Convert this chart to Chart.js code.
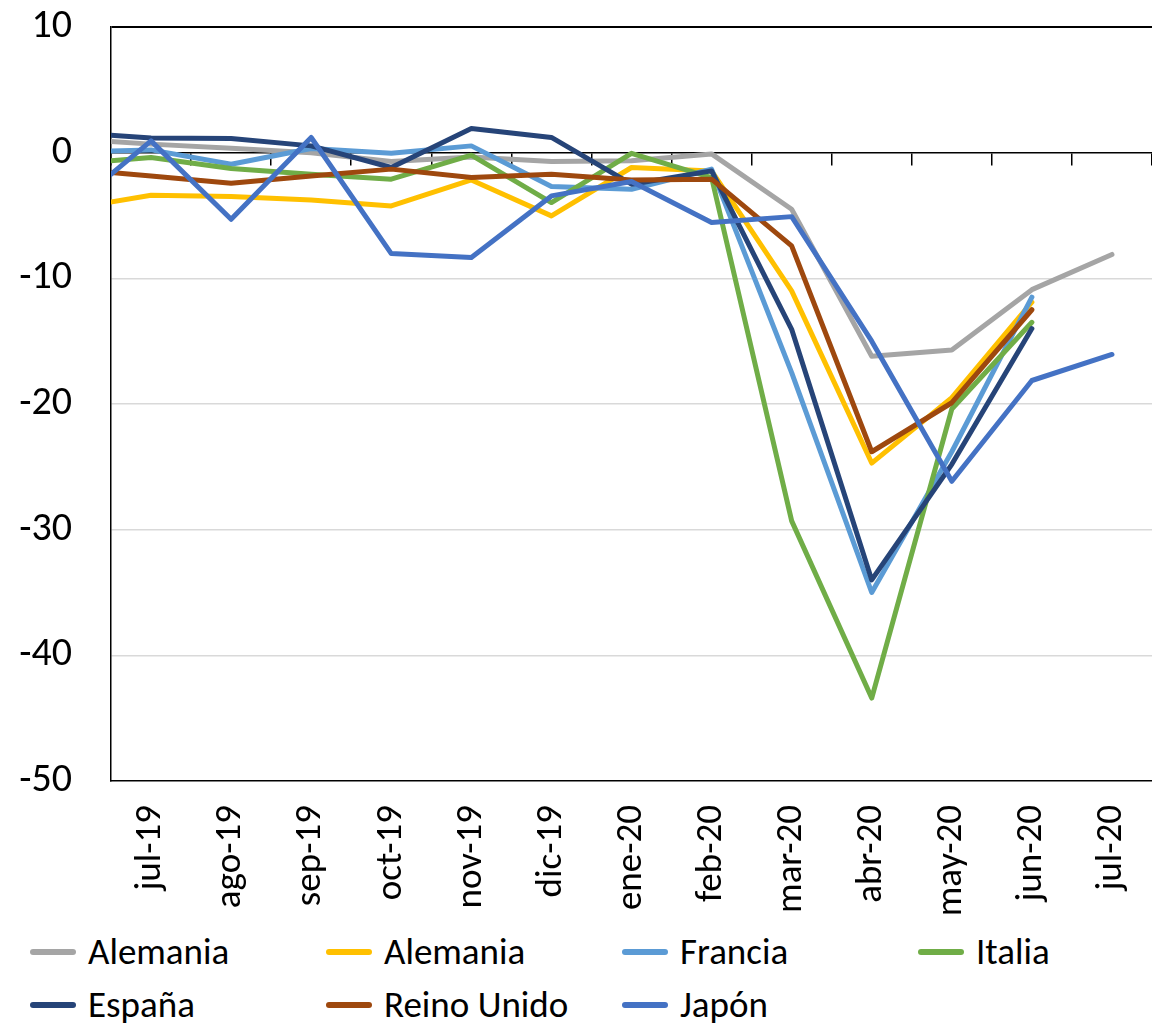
<!DOCTYPE html>
<html lang="es">
<head>
    <meta charset="UTF-8">
    <title>Índices mensuales</title>
    <script src="https://cdn.jsdelivr.net/npm/chart.js@4/dist/chart.umd.min.js"></script>
    <style>
        body {
            margin: 0;
            background: #fff;
            font-family: Carlito, Lato, sans-serif;
            color: #000;
        }
        .chart-box {
            position: relative;
            width: 1152px;
            height: 920px;
        }
        #legend {
            display: grid;
            grid-template-columns: repeat(4, 296px);
            grid-auto-rows: 53px;
            padding-left: 30px;
            margin-top: 5px;
        }
        #legend .item {
            display: flex;
            align-items: center;
            font-size: 37px;
        }
        #legend .swatch {
            width: 46px;
            height: 6px;
            border-radius: 3px;
            margin-right: 12px;
        }
    </style>
</head>
<body>
    <div class="chart-box">
        <canvas id="chart"></canvas>
    </div>
    <div id="legend"></div>

    <script>
        // jun-19 sits just left of the plot; only its segment to jul-19 shows
        const months = ['jun-19', 'jul-19', 'ago-19', 'sep-19', 'oct-19', 'nov-19', 'dic-19',
                        'ene-20', 'feb-20', 'mar-20', 'abr-20', 'may-20', 'jun-20', 'jul-20'];
        const firstShown = 'jul-19';

        const alemania     = [1.1, 0.68, 0.36, 0.0, -0.7, -0.35, -0.7, -0.65, -0.1, -4.5, -16.2, -15.7, -10.9, -8.1];
        const alemania2    = [-4.45, -3.39, -3.49, -3.76, -4.24, -2.17, -5.03, -1.18, -1.45, -11.0, -24.7, -19.5, -11.9, null];
        const francia      = [0.06, 0.22, -0.92, 0.33, -0.05, 0.54, -2.7, -2.91, -1.31, -17.5, -35.0, -23.8, -11.5, null];
        const italia       = [-0.92, -0.38, -1.26, -1.71, -2.11, -0.2, -3.97, -0.05, -1.98, -29.3, -43.4, -20.4, -13.5, null];
        const espana       = [1.62, 1.16, 1.13, 0.54, -1.18, 1.93, 1.21, -2.51, -1.45, -14.06, -34.0, -24.8, -14.0, null];
        const reinoUnido   = [-1.31, -1.85, -2.43, -1.85, -1.31, -1.98, -1.71, -2.17, -2.11, -7.42, -23.8, -19.9, -12.5, null];
        const japon        = [-4.36, 0.94, -5.3, 1.21, -8.03, -8.35, -3.44, -2.3, -5.56, -5.09, -15.0, -26.15, -18.13, -16.06];

        const seriesNames  = ['Alemania', 'Alemania', 'Francia', 'Italia', 'España', 'Reino Unido', 'Japón'];
        const seriesValues = [alemania, alemania2, francia, italia, espana, reinoUnido, japon];
        const colors = ['#A5A5A5', '#FFC000', '#5B9BD5', '#70AD47', '#264478', '#9E480E', '#4472C4'];

        const yMin = -50, yMax = 10, yStep = 10;
        const family = 'Carlito, Lato, sans-serif';

        const datasets = seriesNames.map((name, i) => ({
            label: name,
            data: seriesValues[i],
            borderColor: colors[i],
            backgroundColor: colors[i],
            borderWidth: 5,
            borderCapStyle: 'round',
            borderJoinStyle: 'round',
            pointRadius: 0,
            tension: 0,
            clip: 0,
            // later series drawn on top, like the original
            order: seriesNames.length - i
        }));

        // no extra room around the plot for half labels
        function noPadding(scale) {
            scale.paddingTop = 0;
            scale.paddingBottom = 0;
            scale.paddingLeft = 0;
            scale.paddingRight = 0;
        }

        new Chart(document.getElementById('chart'), {
            type: 'line',
            data: { labels: months, datasets: datasets },
            options: {
                responsive: true,
                maintainAspectRatio: false,
                animation: false,
                layout: { padding: { top: 27, left: 0, right: 0, bottom: 0 } },
                plugins: {
                    legend: { display: false },
                    tooltip: { enabled: false }
                },
                scales: {
                    x: {
                        type: 'category',
                        min: firstShown,
                        offset: true,
                        grid: { display: false },
                        border: { display: true, color: '#000', width: 1.5 },
                        ticks: {
                            autoSkip: false,
                            minRotation: 90,
                            maxRotation: 90,
                            padding: 16,
                            color: '#000',
                            font: { family: family, size: 37 }
                        },
                        afterFit: scale => { scale.height = 139; noPadding(scale); }
                    },
                    // zero line with tick marks between months
                    x2: {
                        type: 'category',
                        position: { y: 0 },
                        min: firstShown,
                        offset: true,
                        grid: {
                            offset: true,
                            drawOnChartArea: false,
                            drawTicks: true,
                            tickLength: 12,
                            color: '#000',
                            lineWidth: 1.5
                        },
                        border: { display: true, color: '#000', width: 1.5 },
                        ticks: { display: false },
                        afterFit: noPadding
                    },
                    y: {
                        min: yMin,
                        max: yMax,
                        ticks: {
                            stepSize: yStep,
                            padding: 39,
                            color: '#000',
                            font: { family: family, size: 40 }
                        },
                        grid: {
                            drawTicks: false,
                            color: c => c.tick.value === yMax ? '#000'
                                : (c.tick.value === 0 || c.tick.value === yMin ? 'rgba(0,0,0,0)' : '#d9d9d9'),
                            lineWidth: c => c.tick.value === yMax ? 2 : 1.5
                        },
                        border: { display: true, color: '#000', width: 1.5 },
                        afterFit: scale => { scale.width = 111; noPadding(scale); }
                    }
                }
            }
        });

        // legend in four columns like the original
        const legend = document.getElementById('legend');
        seriesNames.forEach((name, i) => {
            const item = document.createElement('div');
            item.className = 'item';
            const swatch = document.createElement('span');
            swatch.className = 'swatch';
            swatch.style.background = colors[i];
            item.appendChild(swatch);
            item.appendChild(document.createTextNode(name));
            legend.appendChild(item);
        });
    </script>
</body>
</html>
